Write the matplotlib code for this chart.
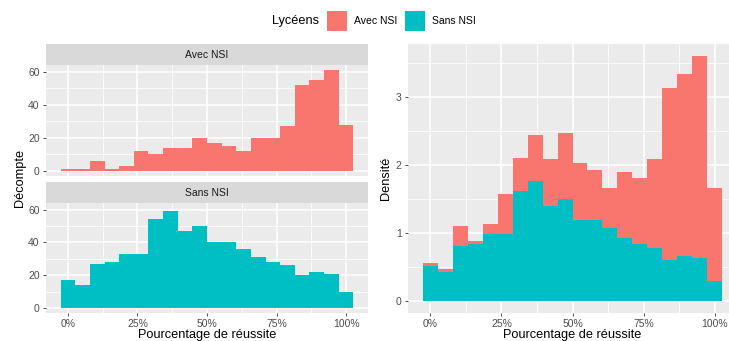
import numpy as np
import matplotlib
matplotlib.use("Agg")
import matplotlib.pyplot as plt
from matplotlib.patches import Rectangle
from matplotlib.ticker import FuncFormatter

plt.rcParams['font.family'] = ['Liberation Sans', 'DejaVu Sans']

# histogrammes (20 classes, centrées de 0 % à 100 %)
bin_centers = np.linspace(0, 1, 20)
avec_counts = [1, 1, 6, 1, 3, 12, 10, 14, 14, 20, 17, 15, 12, 20, 20, 27, 52, 55, 61, 28]
sans_counts = [17, 14, 27, 28, 33, 33, 54, 59, 47, 50, 40, 40, 36, 31, 28, 26, 20, 22, 21, 10]
groups = ["Avec NSI", "Sans NSI"]
colors = {"Avec NSI": "#F8766D", "Sans NSI": "#00BFC4"}
x_ticks = [0, 0.25, 0.5, 0.75, 1.0]

width = bin_centers[1] - bin_centers[0]
avec = np.array(avec_counts, float)
sans = np.array(sans_counts, float)
dens_avec = avec / (avec.sum() * width)
dens_sans = sans / (sans.sum() * width)

W, H = 729, 341
fig = plt.figure(figsize=(W / 100, H / 100), dpi=100)


def box(x0, y0, x1, y1):
    return [x0 / W, 1 - y1 / H, (x1 - x0) / W, (y1 - y0) / H]


PANEL = "#EBEBEB"
STRIP = "#D9D9D9"
TICKC = "#4D4D4D"
TSIZE = 7.5
pct = FuncFormatter(lambda v, p: f"{v * 100:.0f}%")


def style(ax, ylo, yhi, yt, ymin):
    ax.set_facecolor(PANEL)
    for s in ax.spines.values():
        s.set_visible(False)
    xr = 1 + width
    ax.set_xlim(-width / 2 - 0.05 * xr, 1 + width / 2 + 0.05 * xr)
    ax.set_ylim(ylo, yhi)
    ax.set_xticks(x_ticks)
    ax.set_xticks([0.125, 0.375, 0.625, 0.875], minor=True)
    ax.set_yticks(yt)
    ax.set_yticks(ymin, minor=True)
    ax.xaxis.set_major_formatter(pct)
    ax.grid(True, which="major", color="white", lw=1.1)
    ax.grid(True, which="minor", color="white", lw=0.55)
    ax.set_axisbelow(True)
    ax.tick_params(which="major", length=2.5, width=0.6, color="#333333",
                   labelsize=TSIZE, labelcolor=TICKC, pad=2)
    ax.tick_params(which="minor", length=0)


cmax = max(avec.max(), sans.max())
clo, chi = -0.05 * cmax, cmax * 1.05

# facettes de gauche
panels = [(65, 176, 44), (203, 313, 182)]
for (top, bot, stop), g, counts in zip(panels, groups, [avec, sans]):
    sax = fig.add_axes(box(46, stop, 368, top))
    sax.set_facecolor(STRIP)
    sax.set_xticks([])
    sax.set_yticks([])
    for s in sax.spines.values():
        s.set_visible(False)
    sax.text(0.5, 0.5, g, ha="center", va="center", fontsize=7.5,
             color="#1A1A1A", transform=sax.transAxes)
    ax = fig.add_axes(box(46, top, 368, bot))
    ax.bar(bin_centers, counts, width=width, color=colors[g], linewidth=0)
    style(ax, clo, chi, [0, 20, 40, 60], [10, 30, 50])
    if g == "Avec NSI":
        ax.tick_params(axis="x", which="major", length=0, labelbottom=False)
    else:
        ax.set_xlabel("Pourcentage de réussite", fontsize=9.2, labelpad=0)

fig.text(20 / W, 1 - 178 / H, "Décompte", rotation=90, ha="center",
         va="center", fontsize=9.2)

# densité empilée à droite
ax2 = fig.add_axes(box(408, 44, 737, 313))
ax2.bar(bin_centers, dens_sans, width=width, color=colors["Sans NSI"], linewidth=0)
ax2.bar(bin_centers, dens_avec, bottom=dens_sans, width=width,
        color=colors["Avec NSI"], linewidth=0)
dmax = (dens_sans + dens_avec).max()
style(ax2, -0.05 * dmax, dmax * 1.05, [0, 1, 2, 3], [0.5, 1.5, 2.5, 3.5])
ax2.set_xlabel("Pourcentage de réussite", fontsize=9.2, labelpad=0)
fig.text(386 / W, 1 - 178 / H, "Densité", rotation=90, ha="center",
         va="center", fontsize=9.2)

# légende
fig.text(272 / W, 1 - 21 / H, "Lycéens", ha="left", va="center", fontsize=9.2)
for g, (x0, xt) in zip(groups, [(327, 354), (405, 432)]):
    fig.add_artist(Rectangle((x0 / W, 1 - 31 / H), 20 / W, 20 / H,
                             transform=fig.transFigure, color=colors[g], lw=0))
    fig.text(xt / W, 1 - 21 / H, g, ha="left", va="center", fontsize=7.5)

fig.savefig("out.png", dpi=100)
